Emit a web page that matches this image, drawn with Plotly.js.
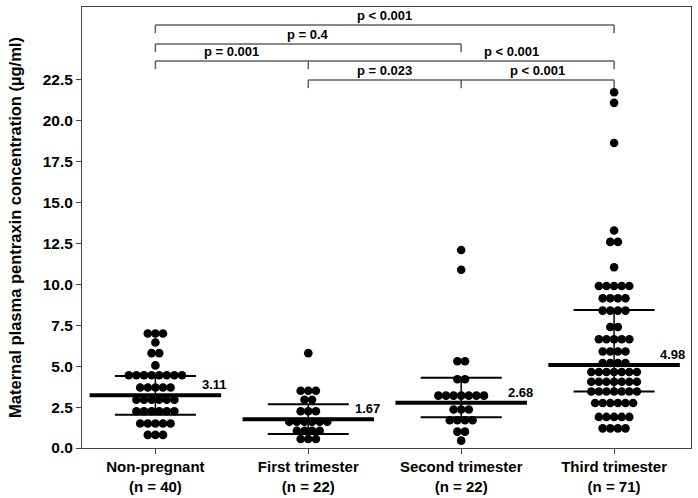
<!DOCTYPE html>
<html>
<head>
<meta charset="utf-8">
<script src="https://cdn.plot.ly/plotly-3.0.1.min.js"></script>
<style>html,body{margin:0;padding:0;background:#fff;}#chart{width:698px;height:498px;}</style>
</head>
<body>
<div id="chart"></div>
<script>
// ---- data ----
const categories = ['Non-pregnant', 'First trimester', 'Second trimester', 'Third trimester'];
const nLabels = ['(n = 40)', '(n = 22)', '(n = 22)', '(n = 71)'];

const nonPregnant = [7.0, 7.0, 7.0, 6.45, 5.8, 5.8, 5.05,
  4.45, 4.45, 4.45, 4.45, 4.45, 4.45, 4.45, 4.45,
  3.7, 3.7, 3.7, 3.7, 3.7,
  2.95, 2.95, 2.95, 2.95, 2.95, 2.95,
  2.25, 2.25, 2.25, 2.25, 2.25, 2.25,
  1.5, 1.5, 1.5, 1.5, 1.5,
  0.8, 0.8, 0.8];
const firstTrimester = [5.8, 3.5, 3.5, 3.5, 2.95, 2.95, 2.25, 2.25, 2.25,
  1.6, 1.6, 1.6, 1.6, 1.6, 1.6, 1.05, 1.05, 1.05, 1.05, 0.55, 0.55, 0.55];
const secondTrimester = [12.1, 10.9, 5.3, 5.3, 4.2, 4.2,
  3.2, 3.2, 3.2, 3.2, 3.2, 3.2, 3.2, 2.35, 2.35, 2.35,
  1.7, 1.7, 1.7, 1.7, 1.0, 1.0, 0.45];
const thirdTrimester = [21.75, 21.1, 18.65, 13.3, 12.6, 12.6, 11.05,
  9.9, 9.9, 9.9, 9.9, 9.9, 9.15, 9.15, 9.15, 9.15, 8.4, 8.4, 8.4, 8.4,
  7.4, 7.4, 6.65, 6.65, 6.65, 6.65, 6.65, 5.9, 5.9, 5.9, 5.9,
  5.2, 5.2, 5.2, 5.2, 4.65, 4.65, 4.65, 4.65, 4.65, 4.65, 4.65,
  4.05, 4.05, 4.05, 4.05, 4.05, 4.05, 4.05, 3.45, 3.45, 3.45, 3.45, 3.45, 3.45, 3.45,
  2.75, 2.75, 2.75, 2.75, 2.75, 2.75, 1.9, 1.9, 1.9, 1.9, 1.9, 1.2, 1.2, 1.2, 1.2];

const centerLine = [3.22, 1.76, 2.77, 5.07];
const centerLabels = ['3.11', '1.67', '2.68', '4.98'];
const whiskerLow = [2.04, 0.86, 1.88, 3.45];
const whiskerHigh = [4.40, 2.68, 4.30, 8.43];

// brackets: level (y), from category, to category, extra tick categories
const bracketLevel = [25.86, 24.70, 23.66, 22.50];
const bracketFrom = [0, 0, 0, 1];
const bracketTo = [3, 2, 3, 3];
const bracketMidTicks = [[], [], [1], [2]];
// p-value labels: text, x position (category units), bracket index
const pText = ['p < 0.001', 'p = 0.4', 'p = 0.001', 'p < 0.001', 'p = 0.023', 'p < 0.001'];
const pX = [1.5, 1.0, 0.5, 2.33, 1.5, 2.5];
const pBracket = [0, 1, 2, 2, 3, 3];

// ---- build ----
const groups = [nonPregnant, firstTrimester, secondTrimester, thirdTrimester];
const dotStep = 7.6 / 152.9;
const xs = [], ys = [];
groups.forEach((vals, gi) => {
  const rows = new Map();
  vals.forEach(v => rows.set(v, (rows.get(v) || 0) + 1));
  rows.forEach((k, v) => {
    for (let j = 0; j < k; j++) {
      xs.push(gi + (j - (k - 1) / 2) * dotStep);
      ys.push(v);
    }
  });
});

const shapes = [];
const thickHalf = 0.43, whiskHalf = 0.265;
categories.forEach((c, i) => {
  shapes.push({type: 'line', xref: 'x', yref: 'y', x0: i - thickHalf, x1: i + thickHalf, y0: centerLine[i], y1: centerLine[i], line: {color: '#000', width: 4}});
  shapes.push({type: 'line', xref: 'x', yref: 'y', x0: i - whiskHalf, x1: i + whiskHalf, y0: whiskerLow[i], y1: whiskerLow[i], line: {color: '#000', width: 2}});
  shapes.push({type: 'line', xref: 'x', yref: 'y', x0: i - whiskHalf, x1: i + whiskHalf, y0: whiskerHigh[i], y1: whiskerHigh[i], line: {color: '#000', width: 2}});
  shapes.push({type: 'line', xref: 'x', yref: 'y', x0: i, x1: i, y0: whiskerLow[i], y1: whiskerHigh[i], line: {color: '#000', width: 1.5}});
});
const tickDrop = 0.5;
bracketLevel.forEach((lv, b) => {
  const bc = '#606060';
  shapes.push({type: 'line', xref: 'x', yref: 'y', x0: bracketFrom[b], x1: bracketTo[b], y0: lv, y1: lv, line: {color: bc, width: 1.5}});
  [bracketFrom[b], bracketTo[b]].concat(bracketMidTicks[b]).forEach(t => {
    shapes.push({type: 'line', xref: 'x', yref: 'y', x0: t, x1: t, y0: lv, y1: lv - tickDrop, line: {color: bc, width: 1.5}});
  });
});

const annotations = [];
pText.forEach((t, i) => {
  annotations.push({xref: 'x', yref: 'y', x: pX[i], y: bracketLevel[pBracket[i]], text: t, showarrow: false,
    xanchor: 'center', yanchor: 'bottom', yshift: 0, font: {family: 'Liberation Sans, Arial, sans-serif', size: 13, color: '#000', weight: 'bold'}});
});
centerLabels.forEach((t, i) => {
  annotations.push({xref: 'x', yref: 'y', x: i + 0.385, y: centerLine[i], text: t, showarrow: false,
    xanchor: 'center', yanchor: 'bottom', yshift: 1, font: {family: 'Liberation Sans, Arial, sans-serif', size: 13, color: '#000', weight: 'bold'}});
});

const yt = [];
for (let v = 0; v <= 22.5; v += 2.5) yt.push(v);

const trace = {
  type: 'scatter', mode: 'markers', x: xs, y: ys,
  marker: {size: 8.6, color: '#000', line: {width: 0}},
  hoverinfo: 'y', showlegend: false
};

const layout = {
  width: 698, height: 498,
  margin: {l: 82, r: 7, t: 7, b: 50},
  paper_bgcolor: '#fff', plot_bgcolor: '#fff',
  font: {family: 'Liberation Sans, Arial, sans-serif', color: '#000'},
  xaxis: {
    range: [-0.48, 3.503], tickvals: [0, 1, 2, 3],
    ticktext: categories.map((c, i) => c + '<br>' + nLabels[i]),
    ticks: 'outside', ticklen: 5, tickcolor: '#444', showgrid: false, zeroline: false,
    showline: true, mirror: true, linecolor: '#444', linewidth: 1,
    tickfont: {size: 15, weight: 'bold', color: '#000'}
  },
  yaxis: {
    range: [0, 26.96], tickvals: yt, tickformat: '.1f',
    ticks: 'outside', ticklen: 5, tickcolor: '#444', showgrid: false, zeroline: false,
    showline: true, mirror: true, linecolor: '#444', linewidth: 1,
    tickfont: {size: 15.5, weight: 'bold', color: '#000'},
    title: {text: 'Maternal plasma pentraxin concentration (µg/ml)', standoff: 16,
      font: {size: 16.5, weight: 'bold', color: '#000'}}
  },
  shapes: shapes,
  annotations: annotations
};

Plotly.newPlot('chart', [trace], layout, {displayModeBar: false, staticPlot: true});
</script>
</body>
</html>
